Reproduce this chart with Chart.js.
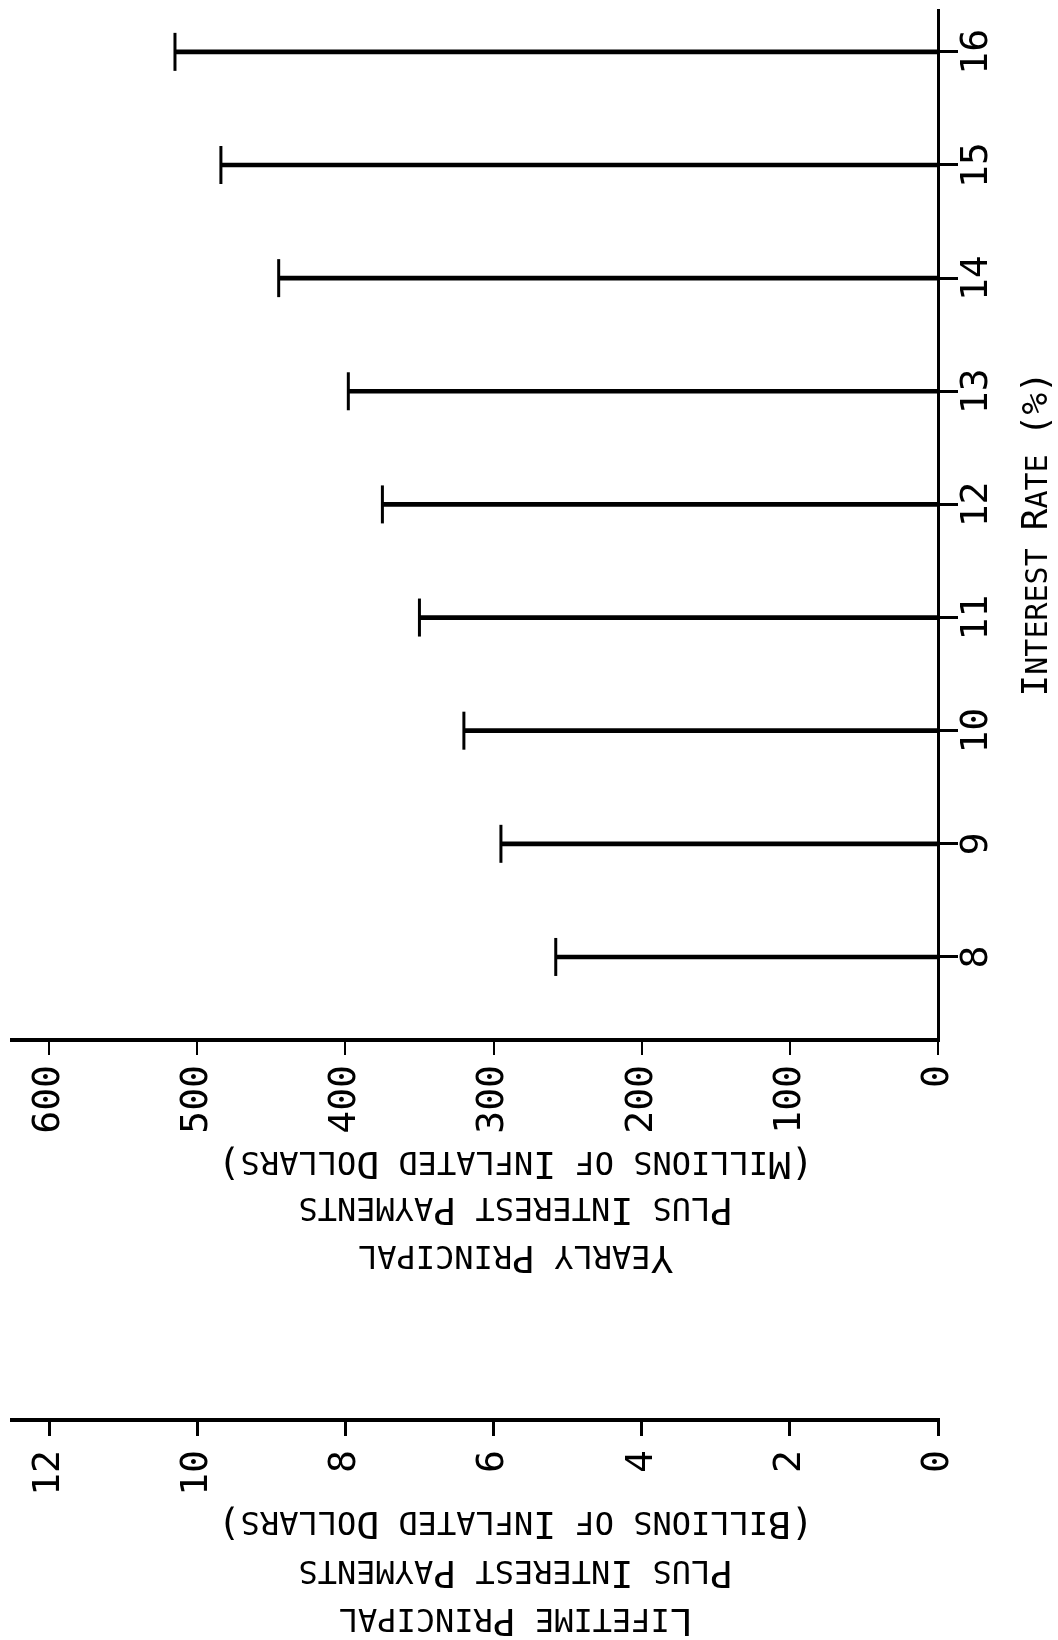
<!DOCTYPE html>
<html>
<head>
<meta charset="utf-8">
<script src="https://cdn.jsdelivr.net/npm/chart.js@4.4.1/dist/chart.umd.min.js"></script>
<style>
    body { margin: 0; background: #fff; }
    canvas { display: block; }
</style>
</head>
<body>
<canvas id="grafica" width="1058" height="1640"></canvas>
<script>
// tasa de interes (%)
var tasas = [8, 9, 10, 11, 12, 13, 14, 15, 16]
// capital + intereses por año (millones de dolares inflados)
var pagoAnual = [258, 295, 320, 350, 375, 398, 445, 484, 515]
var ticksAnual = [0, 100, 200, 300, 400, 500, 600]
// escala de vida total (miles de millones)
var ticksTotal = [0, 2, 4, 6, 8, 10, 12]

var tituloTasa = 'Interest Rate (%)'
var tituloAnual = ['(Millions of Inflated Dollars)', 'Plus Interest Payments', 'Yearly Principal']
var tituloTotal = ['(Billions of Inflated Dollars)', 'Plus Interest Payments', 'Lifetime Principal']

var FUENTE = 'DejaVu Sans Mono'

var puntos = tasas.map(function (t, i) {
    return { x: pagoAnual[i], y: t }
})

// texto en versalitas: mayusculas grandes, minusculas en mayuscula chica
function versalitas(c, texto, cx, cy, grande, chica, angulo) {
    var trozos = []
    var ancho = 0
    for (var i = 0; i < texto.length; i++) {
        var ch = texto[i]
        var esChica = ch !== ch.toUpperCase() || ch === ' '
        var t = { ch: ch.toUpperCase(), tam: esChica ? chica : grande }
        c.font = t.tam + 'px "' + FUENTE + '"'
        t.w = c.measureText(t.ch).width
        ancho += t.w
        trozos.push(t)
    }
    c.save()
    c.translate(cx, cy)
    c.rotate(angulo)
    c.fillStyle = '#000'
    c.textAlign = 'left'
    c.textBaseline = 'alphabetic'
    var x = -ancho / 2
    var base = grande * 0.73 / 2
    trozos.forEach(function (t) {
        c.font = t.tam + 'px "' + FUENTE + '"'
        c.fillText(t.ch, x, base)
        x += t.w
    })
    c.restore()
}

var titulos = {
    id: 'titulos',
    afterDraw: function (chart) {
        var c = chart.ctx
        var ejeX = chart.scales.x
        var ejeX2 = chart.scales.x2
        var ejeY = chart.scales.y
        var cx = ejeX.getPixelForValue(285)

        // titulo del eje de tasas, de abajo hacia arriba
        versalitas(c, tituloTasa, ejeY.right - 24, ejeY.getPixelForValue(11.74), 36, 30, -Math.PI / 2)

        // titulos de los ejes de montos, cabeza abajo
        var dy = [126, 172, 220]
        tituloAnual.forEach(function (linea, i) {
            versalitas(c, linea, cx, ejeX.top + dy[i], 38, 32, Math.PI)
        })
        var dy2 = [106, 155, 203]
        tituloTotal.forEach(function (linea, i) {
            versalitas(c, linea, cx, ejeX2.top + dy2[i], 38, 32, Math.PI)
        })
    }
}

// sin relleno extra por las etiquetas giradas
function sinRelleno(s) {
    s.paddingLeft = 0
    s.paddingRight = 0
    s.paddingTop = 0
    s.paddingBottom = 0
}

var fuenteTicks = { family: FUENTE, size: 38 }

var graf = new Chart(document.getElementById('grafica'), {
    type: 'bar',
    data: {
        datasets: [{
            type: 'bar',
            indexAxis: 'y',
            data: puntos,
            backgroundColor: '#000',
            barThickness: 4,
            xAxisID: 'x',
            yAxisID: 'y'
        }, {
            // remate vertical al final de cada barra
            type: 'scatter',
            data: puntos,
            pointStyle: 'line',
            rotation: 90,
            pointRadius: 19,
            borderColor: '#000',
            borderWidth: 3,
            xAxisID: 'x',
            yAxisID: 'y'
        }]
    },
    options: {
        responsive: false,
        animation: false,
        layout: { autoPadding: false, padding: { left: 12, top: 10, right: 0, bottom: 0 } },
        plugins: {
            legend: { display: false },
            tooltip: { enabled: false }
        },
        scales: {
            x: {
                type: 'linear',
                position: 'bottom',
                weight: 0,
                offset: false,
                reverse: true,
                min: 0,
                max: 625,
                afterBuildTicks: function (s) { s.ticks = ticksAnual.map(function (v) { return { value: v } }) },
                afterFit: function (s) { s.height = 380; sinRelleno(s) },
                grid: { offset: false, drawOnChartArea: false, drawTicks: true, tickLength: 15, color: '#000', lineWidth: 2 },
                border: { display: true, color: '#000', width: 4 },
                ticks: { color: '#000', font: fuenteTicks, minRotation: 90, maxRotation: 90, padding: 10, autoSkip: false }
            },
            x2: {
                type: 'linear',
                axis: 'x',
                position: 'bottom',
                weight: 1,
                offset: false,
                reverse: true,
                min: 0,
                max: 12.5,
                afterBuildTicks: function (s) { s.ticks = ticksTotal.map(function (v) { return { value: v } }) },
                afterFit: function (s) { s.height = 220; sinRelleno(s) },
                grid: { offset: false, drawOnChartArea: false, drawTicks: true, tickLength: 16, color: '#000', lineWidth: 3 },
                border: { display: true, color: '#000', width: 4 },
                ticks: { color: '#000', font: fuenteTicks, minRotation: 90, maxRotation: 90, padding: 14, autoSkip: false }
            },
            y: {
                type: 'linear',
                position: 'right',
                offset: false,
                min: 7.266,
                max: 16.37,
                afterBuildTicks: function (s) { s.ticks = tasas.map(function (v) { return { value: v } }) },
                afterFit: function (s) { s.width = 120; sinRelleno(s) },
                grid: { offset: false, drawOnChartArea: false, drawTicks: true, tickLength: 20, color: '#000', lineWidth: 3 },
                border: { display: true, color: '#000', width: 3 },
                ticks: { color: '#000', font: fuenteTicks, minRotation: 90, maxRotation: 90, crossAlign: 'center', padding: -4, autoSkip: false }
            }
        }
    },
    plugins: [titulos]
})
</script>
</body>
</html>
